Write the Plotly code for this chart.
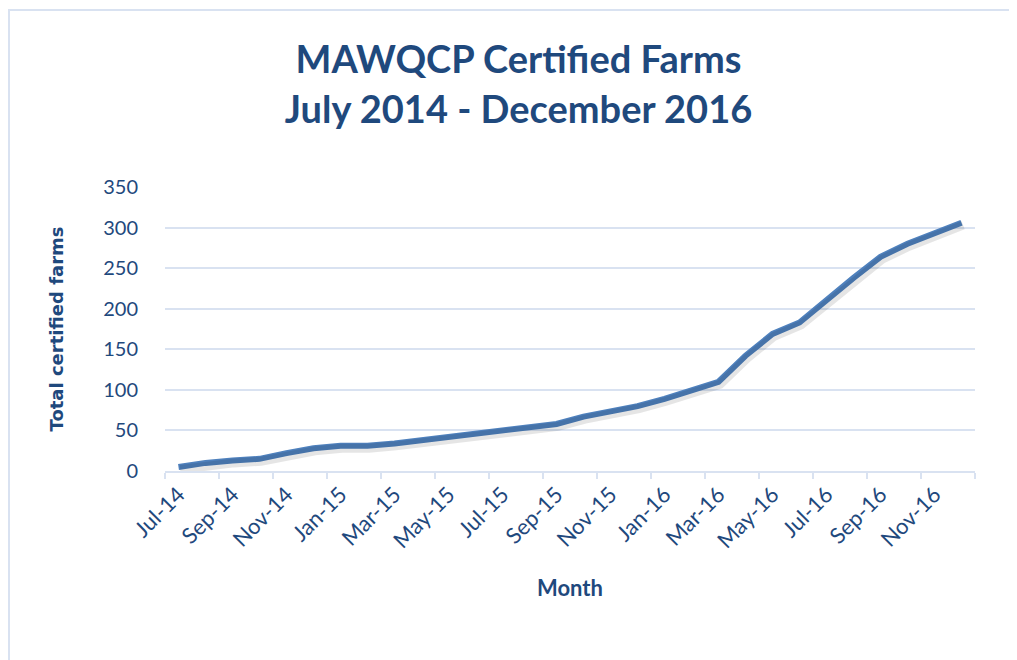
import plotly.graph_objects as go

# Monthly totals, Jul 2014 - Dec 2016
MONTHS = ['Jul-14', 'Aug-14', 'Sep-14', 'Oct-14', 'Nov-14', 'Dec-14',
          'Jan-15', 'Feb-15', 'Mar-15', 'Apr-15', 'May-15', 'Jun-15',
          'Jul-15', 'Aug-15', 'Sep-15', 'Oct-15', 'Nov-15', 'Dec-15',
          'Jan-16', 'Feb-16', 'Mar-16', 'Apr-16', 'May-16', 'Jun-16',
          'Jul-16', 'Aug-16', 'Sep-16', 'Oct-16', 'Nov-16', 'Dec-16']
CERTIFIED = [5, 10, 13, 15, 22, 28,
             31, 31, 34, 38, 41, 45,
             49, 54, 58, 67, 73, 80,
             89, 100, 110, 142, 169, 183,
             211, 238, 264, 280, 293, 306]
Y_TICKS = [0, 50, 100, 150, 200, 250, 300, 350]

TEXT_BLUE = '#1f497d'
GRID_BLUE = '#d9e2f1'
LINE_BLUE = '#4f81bd'

idx = list(range(len(MONTHS)))
n = len(MONTHS)

# the page body has an 8px margin, so the figure is sized a bit smaller
W, H = 1009, 652
L, R, T, B = 157, 42, 179, 189
pw, ph = W - L - R, H - T - B

fig = go.Figure()

# soft drop shadow: same data on a slightly shifted overlay axis
fig.add_trace(go.Scatter(x=idx, y=CERTIFIED, mode='lines',
                         line=dict(color='rgba(0,0,0,0.10)', width=9),
                         xaxis='x2', yaxis='y2', hoverinfo='skip', showlegend=False))
fig.add_trace(go.Scatter(x=idx, y=CERTIFIED, mode='lines',
                         line=dict(color=LINE_BLUE, width=6),
                         text=MONTHS, hovertemplate='%{text}: %{y}<extra></extra>',
                         showlegend=False))

fig.update_layout(
    width=W, height=H,
    margin=dict(l=L, r=R, t=T, b=B),
    paper_bgcolor='white', plot_bgcolor='white',
    font=dict(family='Lato, Open Sans, sans-serif', color=TEXT_BLUE),
    title=dict(text='<b>MAWQCP Certified Farms<br>July 2014 - December 2016</b>',
               x=(510 + 0.5) / W, xanchor='center', y=0.90, yanchor='top',
               font=dict(size=38, color=TEXT_BLUE)),
    xaxis=dict(range=[-0.5, n - 0.5], tickvals=idx[::2], ticktext=MONTHS[::2],
               tickangle=-45, ticks='', showgrid=False, zeroline=False,
               showline=True, linecolor=GRID_BLUE, linewidth=2,
               tickfont=dict(size=22, color=TEXT_BLUE),
               minor=dict(tick0=-0.5, dtick=2, ticks='outside', ticklen=6,
                          tickcolor=GRID_BLUE, tickwidth=2, showgrid=False),
               title=dict(text='<b>Month</b>', font=dict(size=22, color=TEXT_BLUE),
                          standoff=28)),
    yaxis=dict(range=[0, 350], tickvals=Y_TICKS, showgrid=True, gridcolor=GRID_BLUE,
               gridwidth=1.5, zeroline=False, showline=False, ticks='',
               ticklabelstandoff=26,
               tickfont=dict(size=20, color=TEXT_BLUE),
               title=dict(text='<b>Total certified farms</b>',
                          font=dict(family='Verdana, DejaVu Sans, sans-serif',
                                    size=18, color=TEXT_BLUE),
                          standoff=34)),
    xaxis2=dict(overlaying='x', range=[-0.56, n - 0.56], visible=False),
    yaxis2=dict(overlaying='y', range=[3.0, 353.0], visible=False),
    shapes=[dict(type='rect', xref='paper', yref='paper',
                 x0=(1 - L) / pw, x1=1.2, y0=-1.0, y1=1 + (T - 2) / ph,
                 line=dict(color=GRID_BLUE, width=2), layer='below')],
)

fig.write_html('out.html')
